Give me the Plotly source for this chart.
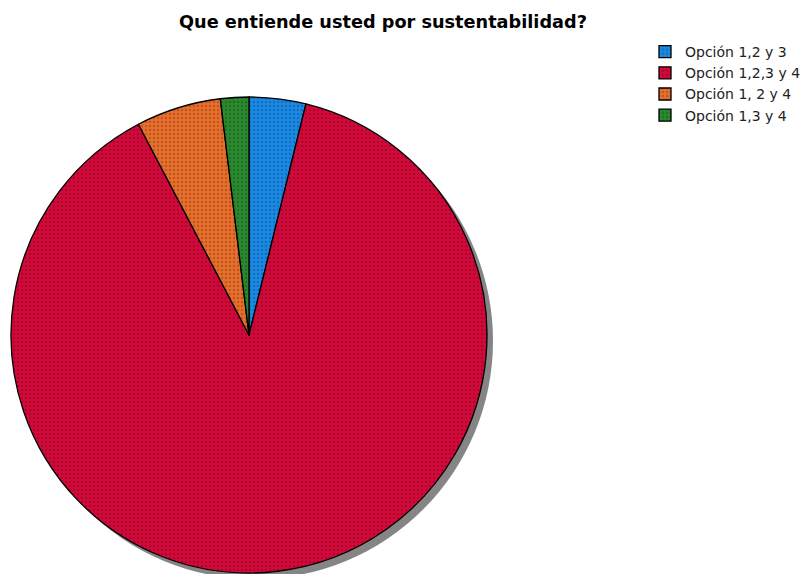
import plotly.graph_objects as go

labels = ["Opción 1,2 y 3", "Opción 1,2,3 y 4", "Opción 1, 2 y 4", "Opción 1,3 y 4"]
values = [2, 46, 3, 1]
colors = ["#1a8ae6", "#d4093a", "#ea6f2c", "#2a8a2e"]

W, H = 803, 574
cx, cy, r = 249, 335, 238
off = 6

def dom(cx, cy, r):
    return dict(x=[(cx - r) / W, (cx + r) / W], y=[1 - (cy + r) / H, 1 - (cy - r) / H])

fig = go.Figure()
fig.add_trace(go.Pie(
    labels=labels, values=values, sort=False, direction="clockwise", rotation=0,
    marker=dict(colors=colors, line=dict(color="black", width=1.3),
                pattern=dict(shape=".", size=4, solidity=0.3, fgcolor="rgba(0,0,0,0.4)", fillmode="overlay")),
    textinfo="none", domain=dom(cx, cy, r),
))
# drop shadow (decoration)
fig.add_shape(type="circle", xref="paper", yref="paper", layer="below",
              x0=(cx + off - r) / W, x1=(cx + off + r) / W,
              y0=1 - (cy + off + r) / H, y1=1 - (cy + off - r) / H,
              fillcolor="#858585", line=dict(width=0))
fig.update_layout(
    width=W, height=H, margin=dict(l=0, r=0, t=0, b=0, autoexpand=False),
    paper_bgcolor="white", plot_bgcolor="white",
    title=dict(text="<b>Que entiende usted por sustentabilidad?</b>", x=383 / W, xanchor="center",
               y=1 - 22 / H, yanchor="middle",
               font=dict(family="DejaVu Sans", size=17.7, color="black")),
    legend=dict(x=645 / W, y=1 - 36 / H, xanchor="left", yanchor="top",
                font=dict(family="DejaVu Sans", size=14, color="#222"),
                tracegroupgap=0, itemwidth=30, bgcolor="rgba(0,0,0,0)"),
)
fig.write_html("out.html")
